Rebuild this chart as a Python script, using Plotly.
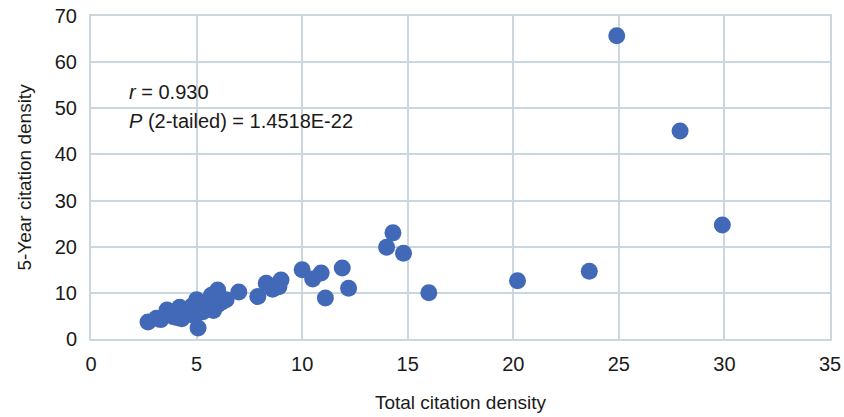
import plotly.graph_objects as go

total_density = [2.7, 3.1, 3.3, 3.6, 3.9, 4.0, 4.2, 4.3, 4.5, 4.6, 4.8, 5.0, 5.07, 5.2, 5.3, 5.5, 5.7, 6.0, 6.0, 6.2, 6.4, 7.0,
                 7.9, 8.3, 8.6, 8.9, 9.0, 10.0, 10.5, 10.9, 11.1, 11.9, 12.2,
                 14.0, 14.3, 14.8, 16.0, 20.2, 23.6, 24.9, 27.9, 29.9,
                 3.8, 4.1, 4.4, 4.9, 5.4, 5.8]
five_year_density = [3.7, 4.5, 4.2, 6.3, 4.8, 5.5, 6.9, 4.4, 5.6, 6.5, 7.2, 8.5, 2.4, 6.8, 5.9, 7.8, 9.5, 7.4, 10.6, 8.0, 8.5, 10.2,
                     9.2, 12.1, 10.8, 11.3, 12.8, 15.0, 13.0, 14.3, 8.9, 15.4, 11.0,
                     19.9, 23.0, 18.6, 10.0, 12.6, 14.7, 65.7, 45.1, 24.7,
                     5.2, 4.6, 6.0, 5.0, 7.0, 6.2]

x_ticks = [0, 5, 10, 15, 20, 25, 30, 35]
y_ticks = [0, 10, 20, 30, 40, 50, 60, 70]

font_family = "Liberation Sans, Arial, Helvetica, sans-serif"
grid_color = "#cbd7df"
text_color = "#1a1a1a"

fig = go.Figure(go.Scatter(
    x=total_density, y=five_year_density, mode="markers",
    marker=dict(size=17, color="#4169b8", line=dict(width=0)),
))

fig.add_annotation(x=1.7, y=53.5, xref="x", yref="y", xanchor="left", yanchor="middle",
                   text="<i>r</i> = 0.930", showarrow=False,
                   font=dict(family=font_family, size=20, color=text_color))
fig.add_annotation(x=1.7, y=47.3, xref="x", yref="y", xanchor="left", yanchor="middle",
                   text="<i>P</i> (2-tailed) = 1.4518E-22", showarrow=False,
                   font=dict(family=font_family, size=20, color=text_color))

fig.update_layout(
    width=844, height=417,
    margin=dict(l=91, r=14, t=16, b=78, autoexpand=False),
    paper_bgcolor="white", plot_bgcolor="white",
    showlegend=False,
    font=dict(family=font_family, size=20, color=text_color),
)
fig.update_xaxes(range=[0, 35], tickvals=x_ticks, ticktext=[str(v) for v in x_ticks],
                 showgrid=True, gridcolor=grid_color, gridwidth=2,
                 showline=True, linecolor=grid_color, linewidth=2, mirror=True,
                 zeroline=False, ticks="", ticklabelstandoff=6, automargin=False,
                 tickfont=dict(size=20),
                 title=dict(text="Total citation density", font=dict(size=19), standoff=22))
fig.update_yaxes(range=[0, 70], tickvals=y_ticks, ticktext=[str(v) for v in y_ticks],
                 showgrid=True, gridcolor=grid_color, gridwidth=2,
                 showline=True, linecolor=grid_color, linewidth=2, mirror=True,
                 zeroline=False, ticks="", ticklabelstandoff=8, automargin=False,
                 tickfont=dict(size=20),
                 title=dict(text="5-Year citation density", font=dict(size=19), standoff=18))

fig.write_html("out.html", config={"displayModeBar": False},
               post_script="document.body.style.margin='0';")
